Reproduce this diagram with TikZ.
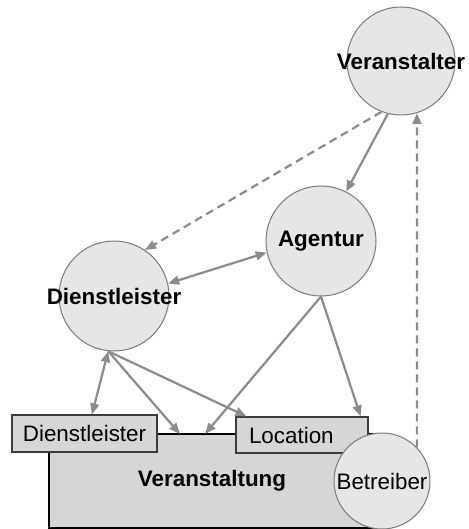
\documentclass[tikz,border=0pt]{standalone}
\usepackage{fontspec}
\setmainfont{Liberation Sans}
\usetikzlibrary{arrows.meta}
\definecolor{linegray}{HTML}{8C8C8C}
\definecolor{circlegray}{HTML}{7A7A7A}
\definecolor{circlefill}{HTML}{E6E6E6}
\definecolor{boxfill}{HTML}{D6D6D6}
\definecolor{boxborder}{HTML}{3C3C3C}
\newcommand{\clabel}[1]{\makebox[0pt]{#1}}

\begin{document}
\begin{tikzpicture}[
  x=0.5pt, y=-0.5pt,
  font=\fontsize{11.2}{13}\selectfont,
  party/.style={circle, draw=circlegray, fill=circlefill, line width=0.5pt,
              inner sep=0pt, minimum size=55pt},
  rolebox/.style={rectangle, draw=boxborder, fill=boxfill, line width=0.6pt,
              inner sep=0pt, minimum height=18.5pt},
  eventbox/.style={rectangle, draw=black, fill=boxfill, line width=0.8pt,
              inner sep=0pt, minimum width=163pt, minimum height=47pt},
  arr/.style={-{Triangle[length=5.5pt,width=4.4pt]}, draw=linegray, line width=1.1pt},
  darr/.style={arr, {Triangle[length=5.5pt,width=4.4pt]}-{Triangle[length=5.5pt,width=4.4pt]}},
  dasharr/.style={arr, dash pattern=on 4pt off 2.5pt}
]
  \useasboundingbox (0,0) rectangle (468,529);

  \node[eventbox] (vst) at (212,481) {\textbf{Veranstaltung}};
  \node[rolebox, minimum width=72.5pt] (dlbox) at (84.5,433.5) {Dienstleister};
  \node[rolebox, text width=53pt, inner xsep=6.5pt, align=left, minimum height=18pt] (loc) at (302,435) {Location};

  \node[party, minimum size=54pt] (vs) at (401,61) {\clabel{\textbf{Veranstalter}}};
  \node[party] (ag) at (321,241) {\clabel{\textbf{Agentur}}};
  \node[party] (dl) at (114,296) {\clabel{\raisebox{-4pt}{\textbf{Dienstleister}}}};
  \node[party, minimum size=48pt] (bt) at (382,481) {\clabel{Betreiber}};

  \coordinate (vtopA) at (180,434);
  \coordinate (vtopB) at (205,434);

  \draw[arr] (vs.-104) -- (ag.63);
  \draw[dasharr] (vs.-111) -- (dl.56);
  \draw[dasharr] (bt.44) -- (vs.-73);
  \draw[darr] (dl.13) -- (ag.192);
  \draw[darr] (dl.-96) -- ([xshift=3.75pt]dlbox.north);
  \draw[arr] (dl.-96) -- (vtopA);
  \draw[arr] (dl.-96) -- ([xshift=5.5pt]loc.north west);
  \draw[arr] (ag.south) -- (vtopB);
  \draw[arr] (ag.south) -- ([xshift=-4pt]loc.north east);
\end{tikzpicture}
\end{document}
